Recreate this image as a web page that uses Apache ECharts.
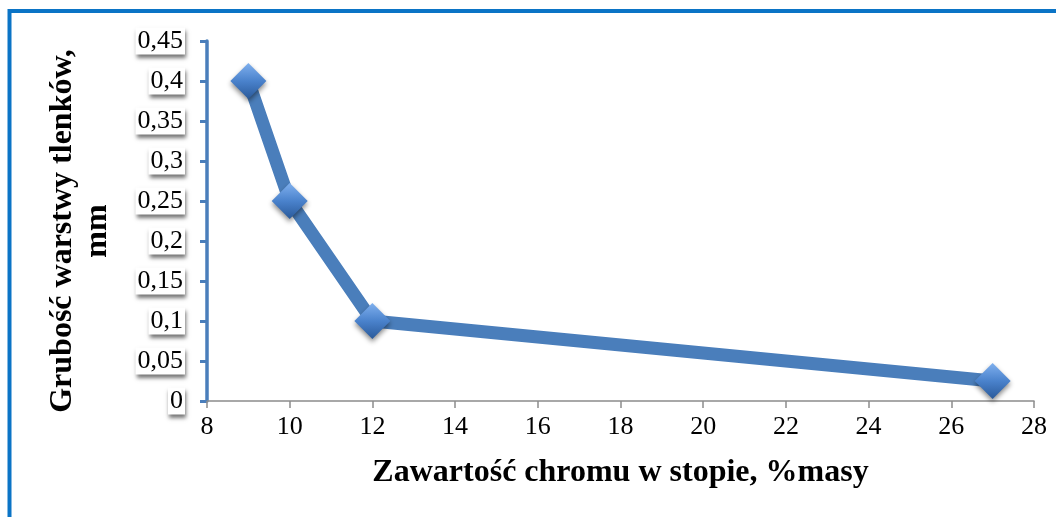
<!DOCTYPE html>
<html>
<head>
<meta charset="utf-8">
<script src="https://cdn.jsdelivr.net/npm/echarts@6/dist/echarts.min.js"></script>
<style>
html,body{margin:0;padding:0;background:#fff;}
#chart{width:1056px;height:517px;}
</style>
</head>
<body>
<div id="chart"></div>
<script>
const chromContent = [9, 10, 12, 27];
const oxideThickness = [0.4, 0.25, 0.1, 0.025];
const xTitle = 'Zawartość chromu w stopie, %masy';
const yTitle = 'Grubość warstwy tlenków,\nmm';

const chart = echarts.init(document.getElementById('chart'));
const serif = '"Liberation Serif", "Times New Roman", serif';
const lineColor = '#4a7ebb';
chart.setOption({
  animation: false,
  backgroundColor: '#fff',
  grid: {left: 207, right: 22, top: 41, bottom: 116},
  graphic: [
    {type: 'polyline', shape: {points: [[9.5, 517], [9.5, 11], [1056, 11]]},
     style: {stroke: '#0b74c6', lineWidth: 4, fill: null}, silent: true}
  ],
  xAxis: {
    type: 'value', min: 8, max: 28, interval: 2,
    name: xTitle, nameLocation: 'middle', nameGap: 56,
    nameTextStyle: {fontFamily: serif, fontWeight: 'bold', fontSize: 32, color: '#000'},
    axisLine: {lineStyle: {color: '#8c8c8c', width: 1.5}},
    axisTick: {show: true, length: 7, lineStyle: {color: '#8c8c8c', width: 1.5}},
    axisLabel: {fontFamily: serif, fontSize: 26, color: '#000', margin: 13},
    splitLine: {show: false}
  },
  yAxis: {
    type: 'value', min: 0, max: 0.45, interval: 0.05,
    name: yTitle, nameLocation: 'middle', nameRotate: 90, nameGap: 92,
    nameTextStyle: {fontFamily: serif, fontWeight: 'bold', fontSize: 32, color: '#000', lineHeight: 35, align: 'center', padding: [0, 20, 0, 0]},
    axisLine: {lineStyle: {color: lineColor, width: 3.5}},
    axisTick: {show: true, length: 7, lineStyle: {color: lineColor, width: 3}},
    axisLabel: {
      fontFamily: serif, fontSize: 26, color: '#000', margin: 22,
      backgroundColor: '#fff', padding: [1, 2, 0, 2],
      shadowColor: 'rgba(0,0,0,0.55)', shadowBlur: 4, shadowOffsetX: 1, shadowOffsetY: 3,
      formatter: v => String(Math.round(v * 100) / 100).replace('.', ',')
    },
    splitLine: {show: false}
  },
  series: [{
    type: 'line',
    data: chromContent.map((x, i) => [x, oxideThickness[i]]),
    lineStyle: {color: lineColor, width: 13, cap: 'round', join: 'round'},
    symbol: 'diamond', symbolSize: 36,
    itemStyle: {
      color: {type: 'linear', x: 0, y: 0, x2: 0, y2: 1, colorStops: [
        {offset: 0, color: '#7fb0ee'}, {offset: 0.5, color: '#4a82cc'}, {offset: 1, color: '#2a5a9a'}]},
      borderWidth: 0,
      shadowColor: 'rgba(0,0,0,0.45)', shadowBlur: 5, shadowOffsetY: 3
    },
    z: 3
  }]
});
</script>
</body>
</html>
